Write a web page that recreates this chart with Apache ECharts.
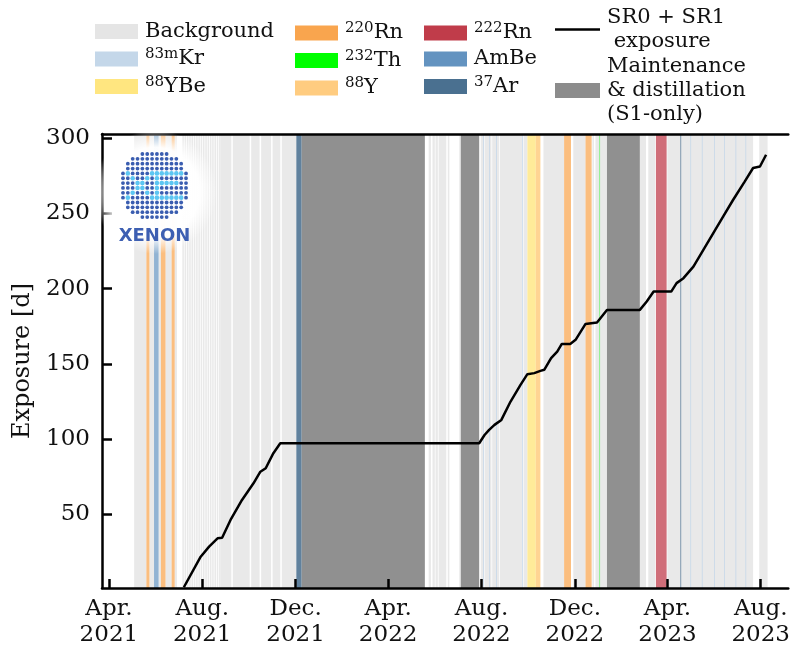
<!DOCTYPE html>
<html><head><meta charset="utf-8">
<script src="https://cdn.jsdelivr.net/npm/echarts@6/dist/echarts.min.js"></script>
<style>html,body{margin:0;padding:0;background:#fff}#c{width:793px;height:653px}</style>
</head><body><div id="c"></div>
<script>
// ---------- data ----------
const xTickDates = ['2021-04-01','2021-08-01','2021-12-01','2022-04-01','2022-08-01','2022-12-01','2023-04-01','2023-08-01'];
const xTickLabels = ['Apr.\n2021','Aug.\n2021','Dec.\n2021','Apr.\n2022','Aug.\n2022','Dec.\n2022','Apr.\n2023','Aug.\n2023'];
const yTicks = [50,100,150,200,250,300];

const expDates = ['2021-07-08','2021-07-30','2021-08-10','2021-08-21','2021-08-27','2021-09-07','2021-09-22','2021-10-07','2021-10-16','2021-10-23','2021-11-02','2021-11-11',
  '2022-07-29','2022-08-05','2022-08-11','2022-08-18','2022-08-27','2022-09-08','2022-09-21','2022-09-30','2022-10-09','2022-10-17','2022-10-22','2022-10-31','2022-11-08','2022-11-14','2022-11-25','2022-12-02','2022-12-15','2022-12-30',
  '2023-01-12','2023-02-24','2023-03-05','2023-03-14','2023-04-06','2023-04-13','2023-04-22','2023-05-05','2023-05-18','2023-05-31','2023-06-13','2023-06-26','2023-07-11','2023-07-22','2023-07-31','2023-08-08'];
const expValues = [1.5,21.8,28.5,34.0,34.4,46.2,59.5,70.6,78.3,80.6,90.6,97.2,
  97.2,102.7,106.1,109.4,112.7,124.9,136.0,143.1,143.8,145.3,146.0,153.7,158.1,163.2,163.2,165.9,176.5,177.4,
  185.8,185.8,191.4,198.0,198.0,203.6,206.9,214.6,225.7,236.8,247.9,259.0,271.1,280.1,281.1,288.9];

const backgroundRuns = [
  ['2021-05-04','2021-05-20'],['2021-05-24','2021-05-30'],['2021-06-05','2021-06-08'],['2021-06-14','2021-06-22'],['2021-06-26','2021-06-29'],
  ['2021-07-06','2021-07-08'],['2021-07-09','2021-07-11'],['2021-07-12','2021-07-14'],['2021-07-15','2021-07-17'],['2021-07-18','2021-07-20'],
  ['2021-07-21','2021-07-23'],['2021-07-24','2021-07-26'],['2021-07-27','2021-07-29'],['2021-07-30','2021-08-01'],['2021-08-02','2021-08-04'],
  ['2021-08-05','2021-08-07'],['2021-08-08','2021-08-10'],['2021-08-11','2021-08-13'],['2021-08-14','2021-08-16'],['2021-08-17','2021-08-19'],
  ['2021-08-20','2021-08-22'],['2021-08-23','2021-08-25'],
  ['2021-08-25','2021-09-08'],['2021-09-10','2021-10-02'],['2021-10-04','2021-10-15'],['2021-10-17','2021-10-30'],['2021-11-01','2021-11-11'],['2021-11-13','2021-12-02'],
  ['2022-05-24','2022-05-27'],['2022-05-29','2022-06-01'],['2022-06-02','2022-06-05'],['2022-06-06','2022-06-16'],['2022-06-18','2022-06-20'],['2022-07-03','2022-07-05'],
  ['2022-07-31','2022-08-04'],['2022-08-05','2022-08-14'],['2022-08-15','2022-08-24'],['2022-08-25','2022-09-23'],['2022-09-25','2022-09-30'],
  ['2022-10-21','2022-11-17'],['2022-11-29','2022-12-15'],['2022-12-24','2022-12-26'],['2022-12-28','2023-01-12'],
  ['2023-02-24','2023-03-04'],['2023-03-07','2023-03-16'],['2023-04-01','2023-07-22'],['2023-07-30','2023-08-10']
];
const kr83mRuns = [['2022-08-03','2022-08-04'],['2022-08-11','2022-08-12'],['2022-08-20','2022-08-21'],['2022-09-23','2022-09-24'],
  ['2023-05-01','2023-05-02'],['2023-05-16','2023-05-17'],['2023-06-01','2023-06-02'],['2023-06-14','2023-06-15'],['2023-06-29','2023-06-30'],['2023-07-12','2023-07-13']];
const y88BeRuns = [['2022-09-30','2022-10-11']];
const rn220Runs = [['2021-05-20','2021-05-24'],['2021-06-08','2021-06-14'],['2021-06-22','2021-06-26'],['2022-11-17','2022-11-26'],['2022-12-15','2022-12-23']];
const th232Runs = [['2023-01-02','2023-01-03']];
const y88Runs = [['2022-10-11','2022-10-17']];
const rn222Runs = [['2023-03-17','2023-03-31']];
const ambeRuns = [['2021-05-30','2021-06-05']];
const ar37Runs = [['2021-12-02','2021-12-09'],['2023-04-18','2023-04-19']];
const maintenanceRuns = [['2021-12-09','2022-05-19'],['2022-07-05','2022-07-29'],['2023-01-12','2023-02-24']];

// ---------- helpers ----------
const ts = s => { const p = s.split('-').map(Number); return new Date(p[0], p[1]-1, p[2]).getTime(); };
const X_MIN = ts('2021-03-23'), X_MAX = ts('2023-09-06');
const Y_MIN = 1, Y_MAX = 302.7;
const FONT = 'DejaVu Serif';

function bandSeries(name, runs, color, plotOpacity) {
  return {
    type: 'custom', name, silent: true, z: 2,
    itemStyle: { color },
    encode: { x: [0, 1] },
    data: runs.map(r => [ts(r[0]), ts(r[1])]),
    renderItem: (params, api) => {
      const a = api.coord([api.value(0), Y_MIN]);
      const b = api.coord([api.value(1), Y_MIN]);
      const cs = params.coordSys;
      return { type: 'rect', shape: { x: a[0], y: cs.y, width: Math.max(b[0] - a[0], 0.6), height: cs.height },
        style: { fill: color, opacity: plotOpacity } };
    }
  };
}

const tickTs = xTickDates.map(ts);

function fmt(name) {
  const m = name.match(/^(\d+m?)(\D.*)$/);
  if (m) return '{s|' + m[1] + '}{n|' + m[2] + '}';
  return name.split('\n').map(l => '{n|' + l + '}').join('\n');
}
const richStyle = {
  n: { fontFamily: FONT, fontSize: 21, lineHeight: 24, color: '#111' },
  s: { fontFamily: FONT, fontSize: 15, lineHeight: 12, verticalAlign: 'top', color: '#111' }
};
function legendCol(names, left, top, itemWidth, gap, icon) {
  const l = { orient: 'vertical', left, top, itemWidth, itemHeight: 15, itemGap: gap, selectedMode: false,
    symbolKeepAspect: true, data: names, formatter: fmt, padding: 0,
    textStyle: { rich: richStyle, padding: [0, 0, 0, 2] } };
  if (icon) l.icon = icon;
  return l;
}

const logo = [];
logo.push({ type: 'circle', shape: { cx: 155, cy: 192, r: 62 }, z: 50, silent: true,
  style: { fill: { type: 'radial', x: 0.5, y: 0.5, r: 0.5, colorStops: [
    { offset: 0, color: 'rgba(255,255,255,1)' }, { offset: 0.72, color: 'rgba(255,255,255,0.97)' }, { offset: 1, color: 'rgba(255,255,255,0)' }] } } });
(function () {
  const cx = 154.5, cy = 185.5, sp = 4.85;
  for (let r = 0; r < 14; r++) for (let k = 0; k < 14; k++) {
    const x = cx + (k - 6.5) * sp, y = cy + (r - 6.5) * sp;
    if ((x - cx) ** 2 + (y - cy) ** 2 > 34.5 * 34.5) continue;
    let hi = false;
    if (r >= 4 && r <= 9) {
      const d = r <= 6 ? r - 4 : 9 - r;
      if (k === 1 + d || k === 6 - d) hi = true;
      if (k === 7) hi = true;
      if ((r === 4 || r === 9) && k >= 7 && k <= 12) hi = true;
      if (r === 6 && k >= 7 && k <= 11) hi = true;
    }
    logo.push({ type: 'circle', shape: { cx: x, cy: y, r: hi ? 2.3 : 1.9 }, z: 51, silent: true,
      style: { fill: hi ? '#5cc6f2' : '#3a5db0' } });
  }
  logo.push({ type: 'text', x: 154.5, y: 236, z: 51, silent: true,
    style: { text: 'XENON', fontFamily: 'DejaVu Sans', fontWeight: 'bold', fontSize: 18, fill: '#3d5fb2', align: 'center', verticalAlign: 'middle' } });
})();

const option = {
  animation: false,
  backgroundColor: '#fff',
  grid: { left: 102, right: 0, top: 134, bottom: 65 },
  xAxis: [{
    type: 'value', min: X_MIN, max: X_MAX, z: 6,
    axisLine: { lineStyle: { color: '#000', width: 2.5 } },
    axisTick: { inside: true, length: 9, lineStyle: { color: '#000', width: 2.5 }, customValues: tickTs },
    axisLabel: { customValues: tickTs, fontFamily: FONT, fontSize: 23, lineHeight: 26, color: '#111', margin: 8,
      formatter: v => { const i = tickTs.indexOf(v); return i >= 0 ? xTickLabels[i] : ''; } },
    splitLine: { show: false }
  }, {
    type: 'value', position: 'top', min: X_MIN, max: X_MAX, z: 6,
    axisLine: { show: true, lineStyle: { color: '#000', width: 2.5 } },
    axisTick: { show: false }, axisLabel: { show: false }, splitLine: { show: false }
  }],
  yAxis: {
    type: 'value', min: Y_MIN, max: Y_MAX, z: 6,
    name: 'Exposure [d]', nameLocation: 'middle', nameGap: 66,
    nameTextStyle: { fontFamily: FONT, fontSize: 24, color: '#111' },
    axisLine: { show: true, lineStyle: { color: '#000', width: 2.5 } },
    axisTick: { show: true, inside: true, length: 10, lineStyle: { color: '#000', width: 2.5 }, customValues: yTicks },
    axisLabel: { customValues: yTicks, fontFamily: FONT, fontSize: 23, color: '#111', margin: 12 },
    splitLine: { show: false }
  },
  legend: [
    legendCol(['Background', '83mKr', '88YBe'], 95, 21, 43, 5, 'rect'),
    legendCol(['220Rn', '232Th', '88Y'], 295, 21, 43, 5, 'rect'),
    legendCol(['222Rn', 'AmBe', '37Ar'], 424, 21, 43, 5, 'rect'),
    legendCol([{ name: 'SR0 + SR1\n exposure', icon: 'path://M0,0H45V2.6H0Z' },
               { name: 'Maintenance\n& distillation\n(S1-only)', icon: 'rect' }], 555, 7, 45, 4)
  ],
  graphic: logo,
  series: [
    bandSeries('Background', backgroundRuns, '#e5e5e5', 0.85),
    bandSeries('83mKr', kr83mRuns, '#c4d7e9', 1),
    bandSeries('88YBe', y88BeRuns, '#ffe680', 0.8),
    bandSeries('220Rn', rn220Runs, '#f9a54e', 0.72),
    bandSeries('232Th', th232Runs, '#00ff00', 0.5),
    bandSeries('88Y', y88Runs, '#ffcc80', 0.85),
    bandSeries('222Rn', rn222Runs, '#c03c4a', 0.74),
    bandSeries('AmBe', ambeRuns, '#6393c0', 0.7),
    bandSeries('37Ar', ar37Runs, '#4a7090', 0.88),
    bandSeries('Maintenance\n& distillation\n(S1-only)', maintenanceRuns, '#8c8c8c', 0.97),
    {
      type: 'line', name: 'SR0 + SR1\n exposure', z: 5, symbol: 'none', silent: true,
      lineStyle: { color: '#000', width: 2.5 }, itemStyle: { color: '#000' },
      data: expDates.map((d, i) => [ts(d), expValues[i]])
    }
  ]
};
echarts.init(document.getElementById('c')).setOption(option);
</script></body></html>
